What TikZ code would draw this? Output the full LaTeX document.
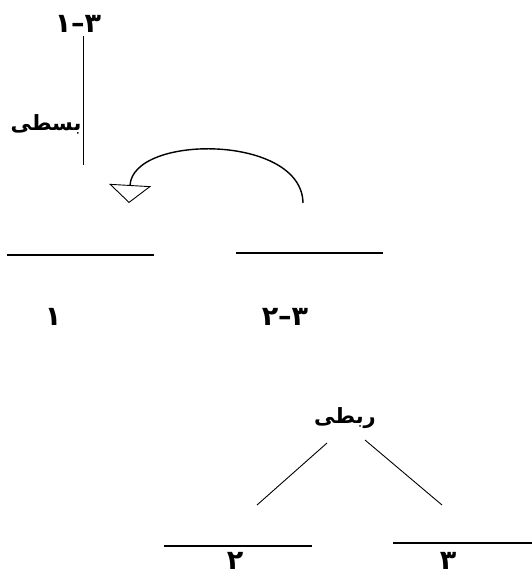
\documentclass[tikz,border=0pt]{standalone}
\usepackage{fontspec}
\usetikzlibrary{arrows.meta}
\TeXXeTstate=1
\newfontfamily\arabicfont[Script=Arabic]{DejaVu Sans}
\tikzset{lbl/.style={font=\arabicfont\bfseries\fontsize{21}{24}\selectfont, inner sep=0pt},
	num/.style={font=\arabicfont\bfseries\fontsize{27}{30}\selectfont, inner sep=0pt},
	bar/.style={line width=1.3pt}}

\begin{document}
\begin{tikzpicture}[x=1pt,y=-1pt]
\useasboundingbox (0,0) rectangle (532,574);
% upper part
\node[num] (top) at (78,24) {۳–۱};
\coordinate (topend) at (83,165);
\draw[line width=0.9pt] (83,36) -- (topend);
\node[lbl] (bast) at (46,124) {\beginR بسطی\endR};
%
\draw[line width=1.4pt, -{Triangle[open, length=18pt, width=42pt, line width=0.9pt]}]
	(303,203) .. controls (302,134) and (133,134) .. (129,203);
%
\draw[bar] (7,255) -- (154,255);
\draw[bar] (236,253) -- (383,253);
\node[num] (one) at (53,317) {۱};
\node[num] (twothree) at (285,317) {۳–۲};
% lower part
\node[lbl] (rabt) at (345,418) {\beginR ربطی\endR};
\coordinate (lft) at (257,505);
\coordinate (rgt) at (442,505);
\draw[line width=0.9pt] (327,443) -- (lft);
\draw[line width=0.9pt] (365,440) -- (rgt);
%
\draw[bar] (164,546) -- (312,546);
\draw[bar] (393,543) -- (532,543);
\node[num, anchor=base] (two) at (235,569) {۲};
\node[num, anchor=base] (three) at (448,569) {۳};
\end{tikzpicture}
\end{document}
